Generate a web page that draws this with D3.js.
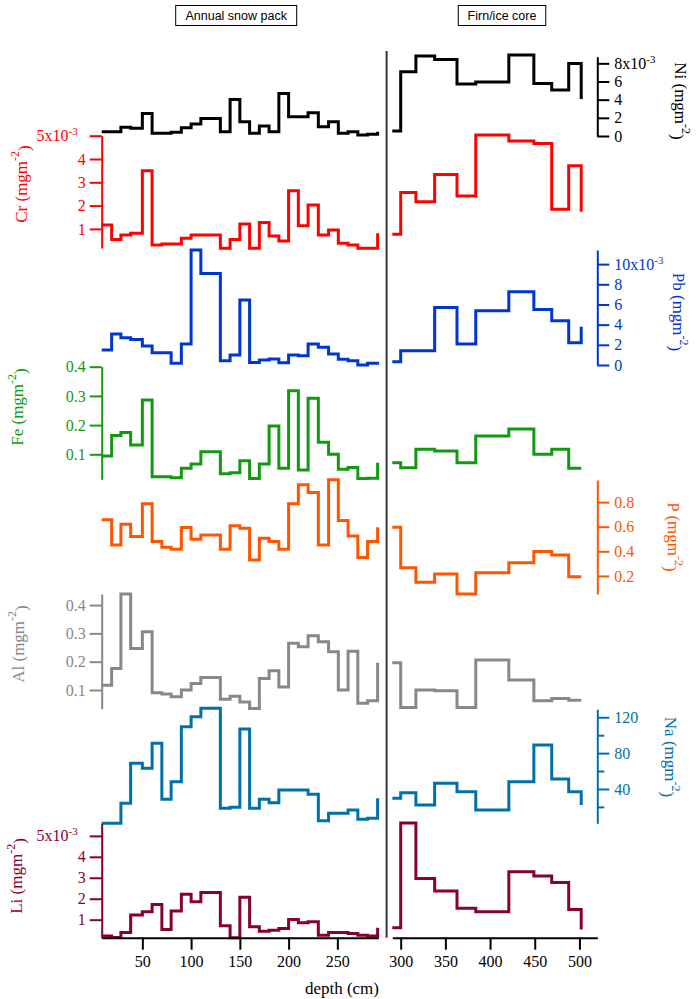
<!DOCTYPE html>
<html>
<head>
<meta charset="utf-8">
<script src="https://cdn.jsdelivr.net/npm/d3@7"></script>
<style>
body { margin: 0; background: #fff; }
svg { display: block; }
.serif { font-family: "Liberation Serif", "Times New Roman", serif; }
</style>
</head>
<body>
<div id="chart"></div>
<script>
// sample depths (cm): top of each sample, last entry is the bottom point
var depthSnow = [8.3, 18.5, 28, 38, 50, 60, 70, 79.5, 90, 100, 110, 130, 140, 150, 160, 170, 180, 190, 200, 210, 220, 230.5, 241, 251, 261, 271, 281, 291.3];
var depthCore = [290.6, 300, 317, 338, 363, 384, 421, 449, 469, 488, 502];

// fluxes, mg m-2 (Ni, Cr, Pb, Li in units of 10^-3)
var niSnow = [0.48, 0.48, 0.95, 0.84, 2.49, 0.29, 0.29, 0.40, 0.92, 1.32, 1.94, 0.48, 4.03, 1.58, 0.29, 1.10, 0.48, 4.69, 2.13, 2.13, 2.57, 1.03, 1.58, 0.29, 0.48, 0.11, 0.18, 0.48];
var niCore = [0.55, 7.08, 8.80, 8.43, 5.72, 5.94, 8.91, 5.79, 5.06, 7.99, 4.07];

var crSnow = [1.17, 0.55, 0.74, 0.81, 3.50, 0.31, 0.35, 0.35, 0.60, 0.74, 0.74, 0.17, 0.55, 1.21, 0.17, 1.27, 0.70, 0.48, 2.64, 1.14, 2.03, 0.74, 0.95, 0.38, 0.31, 0.17, 0.17, 0.81];
var crCore = [0.77, 2.56, 2.17, 3.34, 2.41, 5.03, 4.77, 4.67, 1.84, 3.71, 1.74];

var pbSnow = [1.49, 3.07, 2.71, 2.54, 1.88, 1.22, 1.22, 0.17, 2.08, 11.39, 9.08, 0.43, 0.99, 6.44, 0.26, 0.50, 0.59, 0.23, 0.99, 0.92, 2.08, 1.75, 1.09, 0.56, 0.43, 0.0, 0.17, 0.33];
var pbCore = [0.33, 1.42, 1.42, 5.71, 2.08, 5.38, 7.26, 5.51, 4.39, 2.21, 3.80];

var feSnow = [0.094, 0.164, 0.175, 0.132, 0.286, 0.023, 0.023, 0.020, 0.052, 0.067, 0.109, 0.033, 0.037, 0.078, 0.017, 0.067, 0.197, 0.052, 0.318, 0.046, 0.292, 0.141, 0.100, 0.049, 0.055, 0.017, 0.018, 0.071];
var feCore = [0.071, 0.054, 0.117, 0.111, 0.071, 0.163, 0.187, 0.100, 0.117, 0.052, 0.052];

var pSnow = [0.656, 0.452, 0.620, 0.520, 0.786, 0.479, 0.433, 0.417, 0.593, 0.498, 0.533, 0.417, 0.607, 0.588, 0.330, 0.506, 0.479, 0.417, 0.786, 0.941, 0.878, 0.452, 0.982, 0.650, 0.525, 0.349, 0.479, 0.596];
var pCore = [0.596, 0.267, 0.148, 0.216, 0.053, 0.226, 0.308, 0.398, 0.370, 0.194, 0.194];

var alSnow = [0.117, 0.176, 0.439, 0.247, 0.306, 0.090, 0.086, 0.076, 0.100, 0.123, 0.144, 0.067, 0.078, 0.058, 0.035, 0.141, 0.168, 0.111, 0.265, 0.253, 0.292, 0.270, 0.235, 0.100, 0.237, 0.053, 0.062, 0.196];
var alCore = [0.196, 0.038, 0.100, 0.097, 0.038, 0.206, 0.135, 0.062, 0.070, 0.064, 0.064];

var naSnow = [1.7, 1.7, 24.0, 68.6, 63.0, 91.0, 28.5, 48.2, 109.5, 120.7, 130.0, 18.4, 19.5, 106.9, 18.4, 28.5, 24.7, 38.9, 38.9, 38.9, 34.0, 4.6, 12.8, 12.8, 16.5, 6.1, 7.2, 29.6];
var naCore = [29.6, 35.9, 22.1, 46.3, 37.0, 16.5, 48.2, 89.1, 51.1, 37.0, 22.1];

var liSnow = [0.22, 0.15, 0.39, 1.22, 1.38, 1.73, 0.53, 1.41, 2.21, 1.86, 2.30, 0.71, 0.14, 2.07, 0.66, 0.45, 0.50, 0.58, 1.01, 0.85, 0.90, 0.26, 0.39, 0.39, 0.34, 0.26, 0.22, 0.61];
var liCore = [0.61, 5.61, 2.97, 2.37, 1.54, 1.38, 3.29, 3.09, 2.77, 1.49, 0.53];

// tick labels
var niTicks = [0, 2, 4, 6, 8];
var crTicks = [1, 2, 3, 4, 5];
var pbTicks = [0, 2, 4, 6, 8, 10];
var feTicks = [0.1, 0.2, 0.3, 0.4];
var pTicks = [0.2, 0.4, 0.6, 0.8];
var alTicks = [0.1, 0.2, 0.3, 0.4];
var naTicks = [20, 40, 60, 80, 100, 120];
var naLabels = [40, 80, 120];
var liTicks = [1, 2, 3, 4, 5];
var snowTicks = [50, 100, 150, 200, 250];
var coreTicks = [300, 350, 400, 450, 500];

var width = 699, height = 999;

var svg = d3.select("#chart").append("svg")
	.attr("width", width)
	.attr("height", height);

var xL = d3.scaleLinear().domain([8.3, 292]).range([101.7, 378.3]);
var xR = d3.scaleLinear().domain([290.6, 520]).range([392.3, 597.3]);

//各元素面板
var panels = [
	{el: "Ni", snow: niSnow, core: niCore, color: "#000000", side: "right", domain: [0, 8.73], range: [136, 56.7], ticks: niTicks, exp: "-3", lx: 675, ly: 101},
	{el: "Cr", snow: crSnow, core: crCore, color: "#ff0000", side: "left", domain: [0.18, 5], range: [248, 135.7], ticks: crTicks, exp: "-3", lx: 26.5, ly: 184},
	{el: "Pb", snow: pbSnow, core: pbCore, color: "#0036d0", side: "right", domain: [0, 11.4], range: [365, 250], ticks: pbTicks, exp: "-3", lx: 673, ly: 312},
	{el: "Fe", snow: feSnow, core: feCore, color: "#119a11", side: "left", domain: [0.0144, 0.4], range: [479.3, 366.7], ticks: feTicks, lx: 23, ly: 407},
	{el: "P", snow: pSnow, core: pCore, color: "#ff5500", side: "right", domain: [0.053, 0.98], range: [594, 480], ticks: pTicks, lx: 668, ly: 537},
	{el: "Al", snow: alSnow, core: alCore, color: "#888888", side: "left", domain: [0.034, 0.439], range: [708.7, 594], ticks: alTicks, lx: 23.5, ly: 644},
	{el: "Na", snow: naSnow, core: naCore, color: "#0070a8", side: "right", domain: [1.7, 128.9], range: [823.3, 709.3], ticks: naTicks, labels: naLabels, lx: 665, ly: 757},
	{el: "Li", snow: liSnow, core: liCore, color: "#880030", side: "left", domain: [0.14, 5.6], range: [937.7, 823.3], ticks: liTicks, exp: "-3", lx: 22, ly: 876}
];

// titles
function titleBox(cx, txt, w) {
	svg.append("rect")
		.attr("x", cx - w / 2).attr("y", 5.5)
		.attr("width", w).attr("height", 20)
		.attr("fill", "#fff").attr("stroke", "#000").attr("stroke-width", 1);
	svg.append("text")
		.attr("x", cx).attr("y", 20)
		.attr("text-anchor", "middle")
		.style("font-family", "'Liberation Sans', Arial, sans-serif")
		.style("font-size", "12.5px")
		.text(txt);
}
titleBox(236.2, "Annual snow pack", 121);
titleBox(502, "Firn/ice core", 87.5);

// separator
svg.append("line")
	.attr("x1", 386.6).attr("x2", 386.6)
	.attr("y1", 51).attr("y2", 937.7)
	.attr("stroke", "#333").attr("stroke-width", 2);

var line = d3.line().curve(d3.curveStepAfter);

panels.forEach(function (p) {
	var y = d3.scaleLinear().domain(p.domain).range(p.range);
	var left = p.side == "left";
	var top = p.ticks[p.ticks.length - 1];

	var axis = (left ? d3.axisLeft(y) : d3.axisRight(y))
		.tickValues(p.ticks)
		.tickSize(12)
		.tickSizeOuter(0)
		.tickPadding(left ? 4 : 5)
		.tickFormat(function (d) {
			if (p.labels && p.labels.indexOf(d) < 0) return "";
			return d3.format("~g")(d);
		});

	var g = svg.append("g")
		.attr("transform", "translate(" + (left ? 101.7 : 597.3) + ",0)")
		.call(axis);
	g.select(".domain").attr("stroke", p.color).attr("stroke-width", 2);
	g.selectAll(".tick line").attr("stroke", p.color).attr("stroke-width", 2)
		.filter(function (d) { return p.labels && p.labels.indexOf(d) < 0; })
		.attr("x2", left ? -7 : 7);
	g.selectAll(".tick text")
		.attr("class", "serif")
		.attr("fill", p.color)
		.style("font-size", "16px");

	if (p.exp) {
		var t = g.selectAll(".tick text").filter(function (d) { return d == top; });
		t.text(null);
		t.append("tspan").attr("dx", left ? -8 : 0).text(top + "x10");
		t.append("tspan").attr("dy", "-0.55em").style("font-size", "11px").text(p.exp);
	}

	// axis label
	var lab = svg.append("text")
		.attr("class", "serif")
		.attr("transform", "translate(" + p.lx + "," + p.ly + ") rotate(" + (left ? -90 : 90) + ")")
		.attr("text-anchor", "middle")
		.attr("fill", p.color)
		.style("font-size", "17px");
	lab.append("tspan").text(p.el + " (mgm");
	lab.append("tspan").attr("dy", "-0.6em").style("font-size", "12px").text("-2");
	lab.append("tspan").attr("dy", "0.6em").text(")");

	svg.append("path")
		.datum(d3.zip(depthSnow, p.snow))
		.attr("fill", "none")
		.attr("stroke", p.color)
		.attr("stroke-width", 3)
		.attr("d", line.x(function (d) { return xL(d[0]); }).y(function (d) { return y(d[1]); }));

	svg.append("path")
		.datum(d3.zip(depthCore, p.core))
		.attr("fill", "none")
		.attr("stroke", p.color)
		.attr("stroke-width", 3)
		.attr("d", line.x(function (d) { return xR(d[0]); }).y(function (d) { return y(d[1]); }));
});

// depth axes
function depthAxis(scale, ticks) {
	var g = svg.append("g")
		.attr("transform", "translate(0,937.7)")
		.call(d3.axisBottom(scale).tickValues(ticks).tickSize(12).tickSizeOuter(0).tickPadding(6));
	g.select(".domain").attr("stroke", "#000").attr("stroke-width", 2);
	g.selectAll(".tick line").attr("stroke", "#000").attr("stroke-width", 2);
	g.selectAll(".tick text")
		.attr("class", "serif")
		.attr("fill", "#000")
		.style("font-size", "16px");
}
depthAxis(xL, snowTicks);
depthAxis(xR, coreTicks);

svg.append("text")
	.attr("class", "serif")
	.attr("x", 379).attr("y", 994)
	.attr("text-anchor", "end")
	.style("font-size", "17px")
	.text("depth (cm)");
</script>
</body>
</html>
